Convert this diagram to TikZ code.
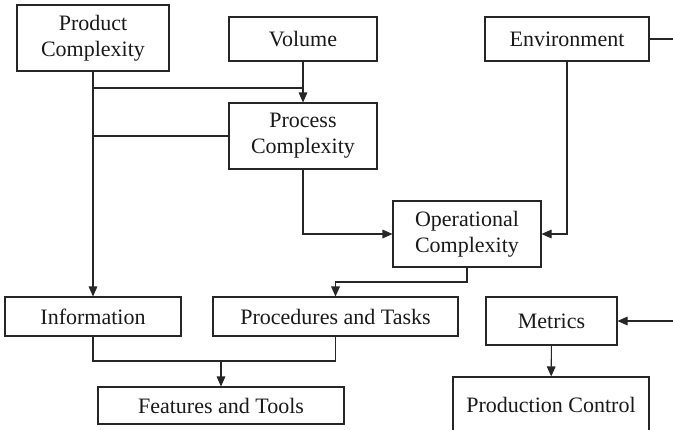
\documentclass[tikz,border=0pt]{standalone}
\usepackage{fontspec}
\setmainfont{Liberation Serif}
\usetikzlibrary{arrows.meta}

\begin{document}
\begin{tikzpicture}[
            x = .75pt, y = -.75pt,
            every node/.style={draw=black!85, line width = .8pt, rectangle, align=center, inner sep=0pt,
                               text=black!90, font=\fontsize{16.5}{19.5}\selectfont},
            line/.style={line width = .8pt, draw=black!85},
            arrow/.style={line, -{Triangle[length=7.5pt, width=6.5pt]}},
            ]

        \useasboundingbox (0,0) rectangle (673,429);
        \clip (0,0) rectangle (673,429);

        \node[minimum width=114pt, minimum height=49.5pt] (1) at (93, 38) {Product\\Complexity};
        \node[minimum width=111pt, minimum height=33pt] (2) at (303, 39) {Volume};
        \node[minimum width=123pt, minimum height=33pt] (3) at (567, 39) {Environment};
        \node[minimum width=111pt, minimum height=49.5pt] (4) at (303, 136) {Process\\Complexity};
        \node[minimum width=111pt, minimum height=49.5pt] (5) at (467, 234) {Operational\\Complexity};
        \node[minimum width=132pt, minimum height=29.25pt] (6) at (93, 316.5) {Information};
        \node[minimum width=183.75pt, minimum height=29.25pt] (7) at (335.5, 316.5) {Procedures and Tasks};
        \node[minimum width=98.25pt, minimum height=36pt] (8) at (551.5, 321) {Metrics};
        \node[minimum width=184.5pt, minimum height=27.75pt] (9) at (221, 405.5) {Features and Tools};
        \node[minimum width=147pt, minimum height=42pt] (10) at (551, 405) {Production Control};

        \coordinate (a) at (303, 88);
        \coordinate (b) at (467, 282);
        \coordinate (c) at (221, 361);
        \coordinate (d) at (680, 39);
        \coordinate (e) at (680, 321);

        \draw[arrow] (1) -- (6);
        \draw[line] (1 |- a) -- (a);
        \draw[arrow] (2) -- (4);
        \draw[line] (4) -- (4 -| 1);
        \draw[arrow] (4) |- (5);
        \draw[arrow] (3) |- (5);
        \draw[line] (3) -- (d);
        \draw[arrow] (5) -- (b) -| (7);
        \draw[line] (6) |- (c) -| (7);
        \draw[arrow] (c) -- (9);
        \draw[arrow] (e) -- (8);
        \draw[arrow] (8) -- (10);
    \end{tikzpicture}
\end{document}
